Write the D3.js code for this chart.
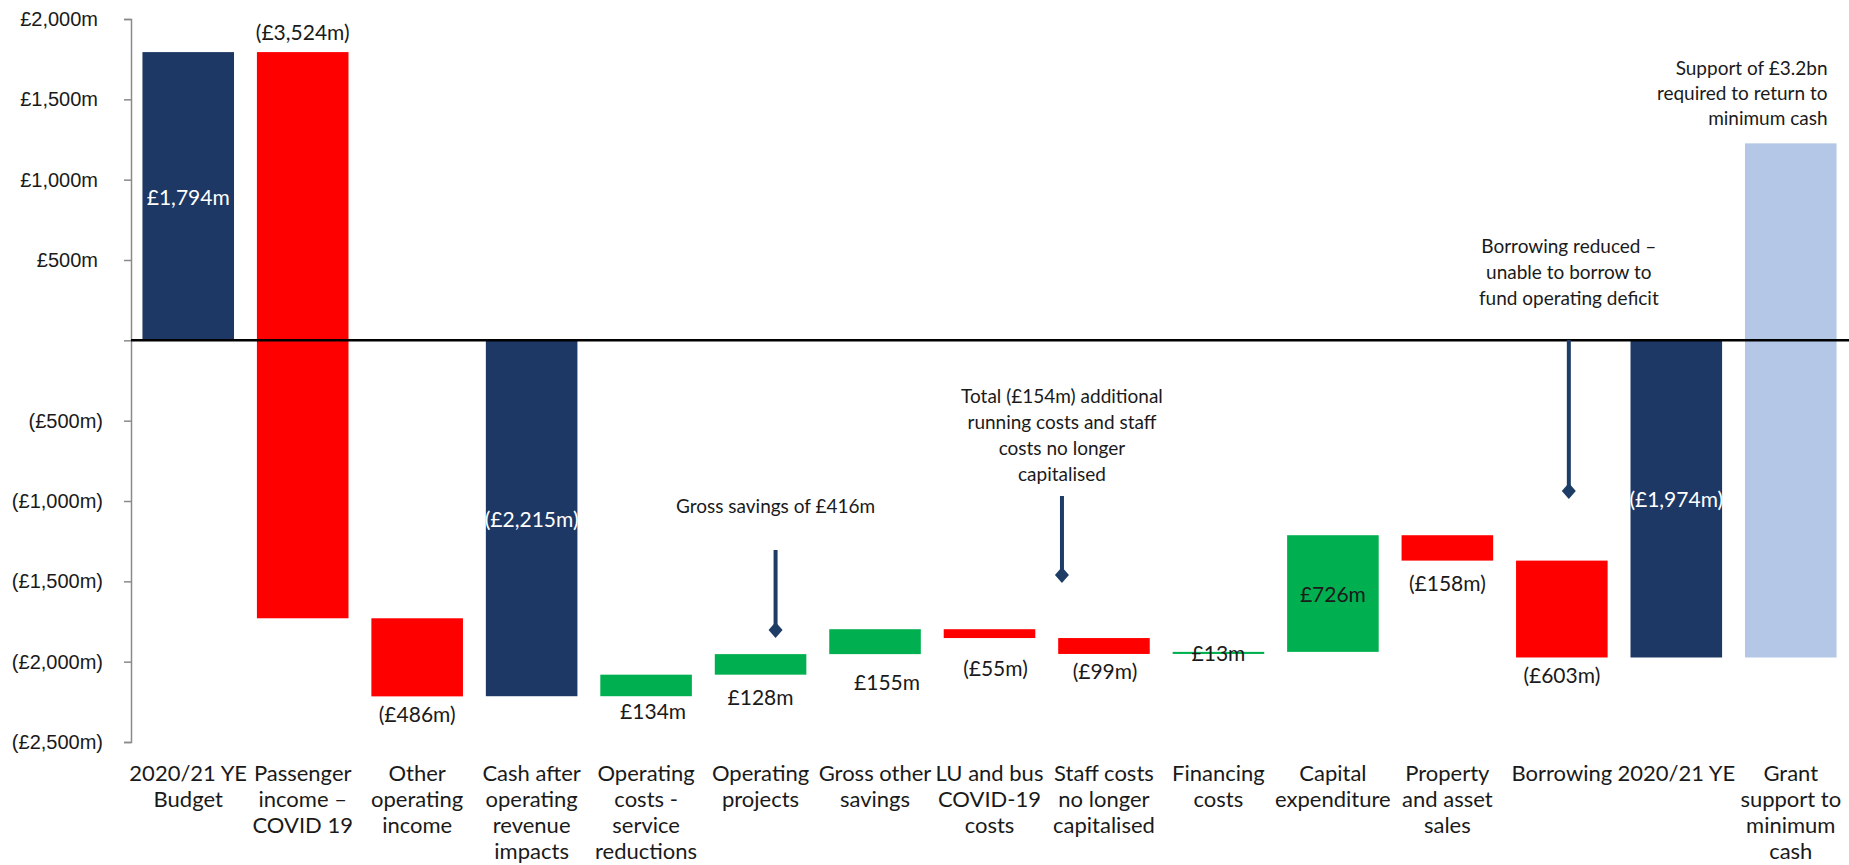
<!DOCTYPE html>
<html>
<head>
<meta charset="utf-8">
<script src="https://cdn.jsdelivr.net/npm/d3@7"></script>
<style>
  html, body { margin: 0; padding: 0; background: #ffffff; }
  svg { display: block; font-family: Lato, "Open Sans", sans-serif; }
</style>
</head>
<body>
<svg id="chart" width="1849" height="865"></svg>
<script>
// Cash bridge, £m: budgeted year-end balance to forecast year-end balance
const categoryLines = [
  ["2020/21 YE", "Budget"],
  ["Passenger", "income –", "COVID 19"],
  ["Other", "operating", "income"],
  ["Cash after", "operating", "revenue", "impacts"],
  ["Operating", "costs -", "service", "reductions"],
  ["Operating", "projects"],
  ["Gross other", "savings"],
  ["LU and bus", "COVID-19", "costs"],
  ["Staff costs", "no longer", "capitalised"],
  ["Financing", "costs"],
  ["Capital", "expenditure"],
  ["Property", "and asset", "sales"],
  ["Borrowing"],
  ["2020/21 YE"],
  ["Grant", "support to", "minimum", "cash"]
];
const categories = categoryLines.map(l => l.join(" "));

// totals are absolute balances, steps are movements from the running balance
const values = [1794, -3524, -486, -2215, 134, 128, 155, -55, -99, 13, 726, -158, -603, -1974, 3200];
const kinds  = ["total", "step", "step", "total", "step", "step", "step", "step", "step", "step", "step", "step", "step", "total", "grant"];

const yTicks = [2000, 1500, 1000, 500, 0, -500, -1000, -1500, -2000, -2500];

const notes = [
  { lines: ["Gross savings of £416m"], at: "Operating projects", dx: 15, textY: 505, arrowFrom: 550, arrowTo: 630 },
  { lines: ["Total (£154m) additional", "running costs and staff", "costs no longer", "capitalised"], at: "Staff costs no longer capitalised", dx: -42, textY: 395, arrowFrom: 496, arrowTo: 575 },
  { lines: ["Borrowing reduced –", "unable to borrow to", "fund operating deficit"], at: "Borrowing", dx: 7, textY: 245, arrowFrom: 340, arrowTo: 491 }
];
const supportNote = ["Support of £3.2bn", "required to return to", "minimum cash"];

// label placement per bar and small hand nudges
const labelPlace = ["inside", "above", "below", "inside", "below", "below", "below", "below", "below", "on", "inside", "below", "below", "inside", "none"];
const labelNudge = [[0,0],[0,0],[0,0],[0,0],[7,-3],[0,5],[12,10],[6,12],[1,0],[0,0],[0,0],[0,5],[0,0],[0,0],[0,0]];

const colors = { total: "#1d3864", up: "#00b050", down: "#ff0000", grant: "#b4c7e7", text: "#1a1a1a", arrow: "#1d3d66" };

const svg = d3.select("#chart");

const x = d3.scaleBand().domain(categories).range([131, 1848]).paddingInner(0.2).paddingOuter(0.1);
const y = d3.scaleLinear().domain([-2500, 2000]).range([742, 19]);

// waterfall extents
let running = 0;
const bars = values.map((v, i) => {
  let start, end;
  if (kinds[i] === "total") { start = 0; end = v; }
  else { start = running; end = running + v; }
  running = end;
  return { cat: categories[i], v, kind: kinds[i], start, end, i };
});

const money = d3.format(",");
const fmt = v => v < 0 ? `(£${money(-v)}m)` : `£${money(v)}m`;

function fill(d) {
  if (d.kind === "total") return colors.total;
  if (d.kind === "grant") return colors.grant;
  return d.v >= 0 ? colors.up : colors.down;
}

// bars
svg.append("g").selectAll("rect").data(bars).join("rect")
  .attr("x", d => x(d.cat))
  .attr("width", x.bandwidth())
  .attr("y", d => y(Math.max(d.start, d.end)))
  .attr("height", d => Math.max(1, Math.abs(y(d.start) - y(d.end))))
  .attr("fill", fill);

// y axis
const yAxis = d3.axisLeft(y).tickValues(yTicks).tickSize(7).tickFormat(d => d === 0 ? "" : fmt(d));
const ag = svg.append("g").attr("transform", "translate(131,0)").call(yAxis);
ag.select(".domain").attr("stroke", "#8a8a8a").attr("stroke-width", 1.5);
ag.selectAll(".tick line").attr("stroke", "#8a8a8a").attr("stroke-width", 1.5);
ag.selectAll(".tick text")
  .attr("fill", colors.text)
  .style("font-size", "20px")
  .attr("x", d => d < 0 ? -28 : -33);

// zero line
svg.append("line")
  .attr("x1", 131).attr("x2", 1849)
  .attr("y1", y(0)).attr("y2", y(0))
  .attr("stroke", "#000").attr("stroke-width", 2.5);

// value labels
const lg = svg.append("g").style("font-size", "21px").attr("text-anchor", "middle");
bars.forEach(d => {
  const place = labelPlace[d.i];
  if (place === "none") return;
  const cx = x(d.cat) + x.bandwidth() / 2 + labelNudge[d.i][0];
  const top = y(Math.max(d.start, d.end));
  const bottom = y(Math.min(d.start, d.end));
  let cy;
  if (place === "inside") cy = (top + bottom) / 2;
  else if (place === "above") cy = top - 21;
  else if (place === "below") cy = bottom + 17;
  else cy = (top + bottom) / 2;
  cy += labelNudge[d.i][1];
  lg.append("text")
    .attr("x", cx).attr("y", cy)
    .attr("dominant-baseline", "central")
    .attr("fill", d.kind === "total" ? "#ffffff" : colors.text)
    .text(fmt(d.v));
});

// category labels
const cg = svg.append("g").style("font-size", "22px").attr("text-anchor", "middle").attr("fill", colors.text);
categoryLines.forEach((lines, i) => {
  const t = cg.append("text")
    .attr("x", x(categories[i]) + x.bandwidth() / 2)
    .attr("y", 781);
  lines.forEach((ln, j) => {
    t.append("tspan")
      .attr("x", x(categories[i]) + x.bandwidth() / 2)
      .attr("dy", j === 0 ? 0 : 26)
      .text(ln);
  });
});

// annotations with arrows
const ng = svg.append("g").style("font-size", "19px").attr("fill", colors.text);
notes.forEach(n => {
  const cx = x(n.at) + x.bandwidth() / 2 + n.dx;
  const t = ng.append("text").attr("text-anchor", "middle").attr("x", cx).attr("y", n.textY).attr("dominant-baseline", "central");
  n.lines.forEach((ln, j) => t.append("tspan").attr("x", cx).attr("dy", j === 0 ? 0 : 26).text(ln));
  ng.append("line")
    .attr("x1", cx).attr("x2", cx)
    .attr("y1", n.arrowFrom).attr("y2", n.arrowTo - 4)
    .attr("stroke", colors.arrow).attr("stroke-width", 4);
  ng.append("path")
    .attr("d", `M${cx},${n.arrowTo - 8} L${cx + 7},${n.arrowTo} L${cx},${n.arrowTo + 8} L${cx - 7},${n.arrowTo} Z`)
    .attr("fill", colors.arrow);
});

// note above the grant bar
const grantRight = x("Grant support to minimum cash") + x.bandwidth() - 9;
const st = ng.append("text").attr("text-anchor", "end").attr("x", grantRight).attr("y", 67).attr("dominant-baseline", "central");
supportNote.forEach((ln, j) => st.append("tspan").attr("x", grantRight).attr("dy", j === 0 ? 0 : 25).text(ln));
</script>
</body>
</html>
